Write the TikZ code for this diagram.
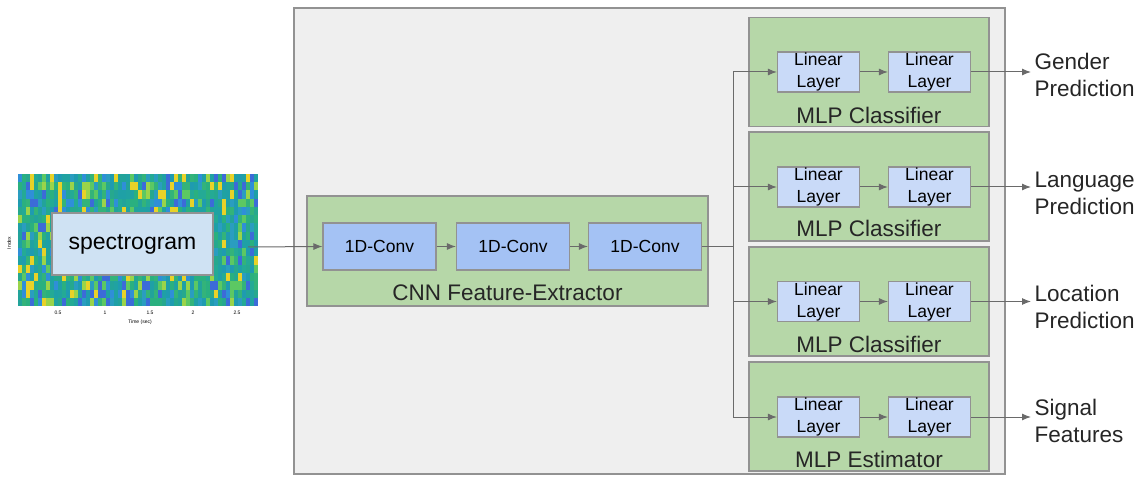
\documentclass[tikz,border=0pt]{standalone}
\usepackage{fontspec}
\setmainfont{Liberation Sans}
\usepackage{tikz}
\usetikzlibrary{calc,arrows.meta,backgrounds}

\definecolor{outergray}{HTML}{EFEFEF}
\definecolor{edgegray}{HTML}{929292}
\definecolor{mlpgreen}{HTML}{B6D7A8}
\definecolor{convblue}{HTML}{A4C2F4}
\definecolor{linblue}{HTML}{C9DAF8}
\definecolor{specblue}{HTML}{CFE2F3}
\definecolor{arrowgray}{HTML}{6A6A6A}
\definecolor{hm1}{HTML}{22A39A}
\definecolor{hm2}{HTML}{2AB07F}
\definecolor{hm3}{HTML}{1F9BB0}
\definecolor{hm4}{HTML}{2F8FD8}
\definecolor{hm5}{HTML}{3C6BD8}
\definecolor{hm6}{HTML}{5CC863}
\definecolor{hm7}{HTML}{9AD44A}
\definecolor{hm8}{HTML}{E8D228}
\definecolor{hm9}{HTML}{26A88E}
\definecolor{hm10}{HTML}{1FA0A6}
\definecolor{hm11}{HTML}{24AA95}
\definecolor{hm12}{HTML}{33B37A}
\definecolor{hm13}{HTML}{20A2A2}
\definecolor{hm14}{HTML}{2A9DC0}

\newcommand{\bigfont}{\fontsize{22.5}{27}\selectfont}
\newcommand{\smallfont}{\fontsize{17.5}{22}\selectfont}

\begin{document}
\begin{tikzpicture}[x=1pt,y=-1pt]
            \tikzset{
              box/.style={draw=edgegray,line width=1.2pt,inner sep=0pt},
              convbox/.style={box,fill=convblue,minimum width=113pt,minimum height=47pt,font=\smallfont},
              linbox/.style={box,fill=linblue,minimum width=82pt,minimum height=40pt,align=center,font=\smallfont},
              mlpbox/.style={box,fill=mlpgreen,minimum width=240pt,minimum height=109pt},
              outlabel/.style={anchor=west,align=left,font=\bigfont,text=black!85},
              grouplabel/.style={font=\bigfont,text=black!85},
              flow/.style={draw=arrowgray,line width=1pt,-{Latex[length=9pt,width=7pt]}}
            }
            \useasboundingbox (0,0) rectangle (1145,478);

            \pgfmathsetseed{11}
            \foreach \i in {0,...,59}{
              \foreach \j in {0,...,15}{
                \pgfmathrandominteger{\k}{1}{14}
                \fill[hm\k] (18+\i*4,174+\j*8.25) rectangle ++(4.2,8.4);
              }
            }
            \node[font=\fontsize{5}{6}\selectfont,rotate=90] (ylab) at (9,243) {Index};
            \node[font=\fontsize{5}{6}\selectfont] (xt1) at (58,313) {0.5};
            \node[font=\fontsize{5}{6}\selectfont] (xt2) at (105,313) {1};
            \node[font=\fontsize{5}{6}\selectfont] (xt3) at (150,313) {1.5};
            \node[font=\fontsize{5}{6}\selectfont] (xt4) at (193,313) {2};
            \node[font=\fontsize{5}{6}\selectfont] (xt5) at (237,313) {2.5};
            \node[font=\fontsize{5}{6}\selectfont] (xlab) at (140,322) {Time (sec)};
            \node[box,fill=specblue,minimum width=161pt,minimum height=62pt,font=\fontsize{23}{27}\selectfont] (spec) at (132.5,244) {spectrogram};
            \coordinate (specout) at (248,247);

            \node[box,fill=outergray,minimum width=711pt,minimum height=466pt] (model) at (649.5,241) {};

            \node[box,fill=mlpgreen,minimum width=401pt,minimum height=110pt] (cnn) at (507.5,251) {};
            \node[grouplabel] (cnnlab) at (507.5,293) {CNN Feature-Extractor};
            \node[convbox] (conv1) at (379.5,246.5) {1D-Conv};
            \node[convbox] (conv2) at (513,246.5) {1D-Conv};
            \node[convbox] (conv3) at (645,246.5) {1D-Conv};
            \coordinate (split) at (733,246.5);

            \node[mlpbox] (mlp1) at (869,72) {};
            \node[mlpbox] (mlp2) at (869,186.5) {};
            \node[mlpbox] (mlp3) at (869,301.5) {};
            \node[mlpbox] (mlp4) at (869,416.5) {};
            \node[grouplabel] (mlplab1) at (869,115) {MLP Classifier};
            \node[grouplabel] (mlplab2) at (869,228) {MLP Classifier};
            \node[grouplabel] (mlplab3) at (869,344) {MLP Classifier};
            \node[grouplabel] (mlplab4) at (869,459) {MLP Estimator};

            \node[linbox] (lin1a) at (818.5,72) {Linear\\Layer};
            \node[linbox] (lin1b) at (929.5,72) {Linear\\Layer};
            \node[linbox] (lin2a) at (818.5,187) {Linear\\Layer};
            \node[linbox] (lin2b) at (929.5,187) {Linear\\Layer};
            \node[linbox] (lin3a) at (818.5,301.5) {Linear\\Layer};
            \node[linbox] (lin3b) at (929.5,301.5) {Linear\\Layer};
            \node[linbox] (lin4a) at (818.5,417) {Linear\\Layer};
            \node[linbox] (lin4b) at (929.5,417) {Linear\\Layer};

            \node[outlabel] (out1) at (1031,75) {Gender\\Prediction};
            \node[outlabel] (out2) at (1031,193) {Language\\Prediction};
            \node[outlabel] (out3) at (1031,307) {Location\\Prediction};
            \node[outlabel] (out4) at (1031,421) {Signal\\Features};

            \draw[flow] (specout) -- (conv1.west);
            \draw[flow] (conv1) -- (conv2);
            \draw[flow] (conv2) -- (conv3);
            \draw[draw=arrowgray,line width=1pt] (conv3.east) -- (split);
            \foreach \n in {1,2,3,4}{
              \draw[flow] (split) |- (lin\n a.west);
              \draw[flow] (lin\n a) -- (lin\n b);
              \draw[flow] (lin\n b.east) -- (out\n.west |- lin\n b.east);
            }
          \end{tikzpicture}
\end{document}
